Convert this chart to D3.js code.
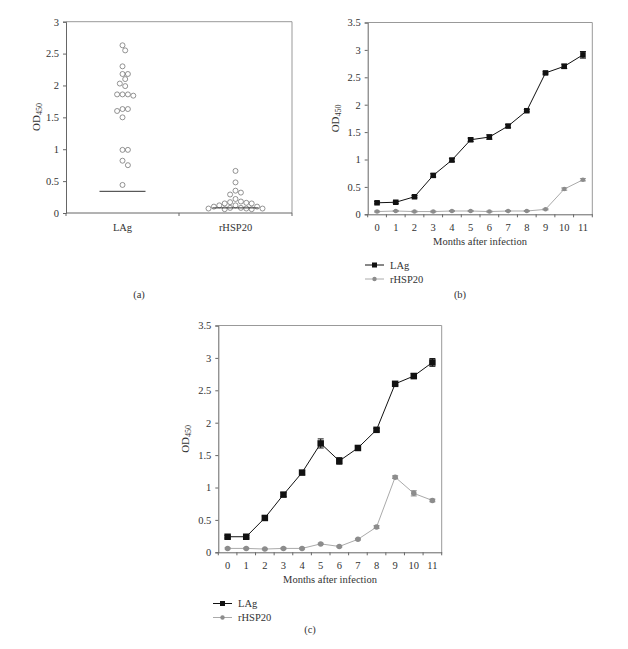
<!DOCTYPE html>
<html>
<head>
<meta charset="utf-8">
<script src="https://cdn.jsdelivr.net/npm/d3@7"></script>
<style>
  body { margin: 0; background: #fff; }
  svg { display: block; }
  text { font-family: "Liberation Serif", "DejaVu Serif", serif; fill: #333; }
</style>
</head>
<body>
<svg id="chart" width="628" height="649"></svg>
<script>
// ---- data ----
var groups = ["LAg", "rHSP20"];
var lagDots = [2.63, 2.55, 2.30, 2.18, 2.18, 2.10, 2.03, 1.99, 1.86, 1.86, 1.86, 1.84,
               1.63, 1.63, 1.60, 1.50, 0.99, 0.99, 0.82, 0.75, 0.44];
var hspDots = [0.66, 0.48, 0.35, 0.32, 0.29, 0.22, 0.18, 0.17, 0.16, 0.15, 0.15, 0.12,
               0.12, 0.10, 0.10, 0.08, 0.08, 0.07, 0.07, 0.07, 0.06, 0.06];
var medians = [0.34, 0.08];

var months = [0, 1, 2, 3, 4, 5, 6, 7, 8, 9, 10, 11];

var bLag    = [0.21, 0.22, 0.32, 0.71, 0.99, 1.36, 1.41, 1.61, 1.89, 2.58, 2.70, 2.91];
var bLagErr = [0.02, 0.02, 0.02, 0.03, 0.03, 0.03, 0.04, 0.03, 0.02, 0.02, 0.04, 0.06];
var bHsp    = [0.05, 0.06, 0.05, 0.05, 0.06, 0.06, 0.05, 0.06, 0.06, 0.09, 0.46, 0.63];
var bHspErr = [0.01, 0.01, 0.01, 0.01, 0.01, 0.01, 0.01, 0.01, 0.01, 0.01, 0.02, 0.02];

var cLag    = [0.24, 0.24, 0.53, 0.89, 1.23, 1.68, 1.41, 1.61, 1.89, 2.60, 2.72, 2.93];
var cLagErr = [0.02, 0.02, 0.03, 0.03, 0.03, 0.07, 0.05, 0.03, 0.02, 0.02, 0.04, 0.06];
var cHsp    = [0.06, 0.06, 0.05, 0.06, 0.06, 0.13, 0.09, 0.20, 0.39, 1.16, 0.91, 0.80];
var cHspErr = [0.01, 0.01, 0.01, 0.01, 0.01, 0.01, 0.01, 0.01, 0.02, 0.02, 0.04, 0.02];

var axisColor = "#666", frameColor = "#999";
var lagColor = "#111", hspColor = "#8c8c8c", hspLine = "#aaa";

var svg = d3.select("#chart");

// rotated OD450 label with subscript
function odLabel(g, x, y) {
  var t = g.append("text")
    .attr("transform", "translate(" + x + "," + y + ") rotate(-90)")
    .attr("text-anchor", "middle")
    .attr("font-size", "11px");
  t.append("tspan").text("OD");
  t.append("tspan").text("450").attr("font-size", "8px").attr("dy", "2");
}

function frame(g, x0, x1, y0, y1) {
  g.append("line").attr("x1", x0).attr("x2", x1).attr("y1", y0).attr("y2", y0)
    .attr("stroke", frameColor);
  g.append("line").attr("x1", x1).attr("x2", x1).attr("y1", y0).attr("y2", y1)
    .attr("stroke", frameColor);
}

function styleAxis(a) {
  a.selectAll("path, line").attr("stroke", axisColor);
  a.selectAll("text").attr("font-size", "10.5px").attr("fill", "#333")
    .attr("font-family", "Liberation Serif, serif");
}

// ---- panel (a): dot plot ----
(function () {
  var g = svg.append("g");
  var x = d3.scaleBand().domain(groups).range([66, 292]);
  var y = d3.scaleLinear().domain([0, 3]).range([213, 21.7]);
  var r = 2.5;

  frame(g, 66, 292, 21.7, 213);

  var ya = g.append("g").attr("transform", "translate(66,0)")
    .call(d3.axisLeft(y).tickValues(d3.range(0, 3.01, 0.5)).tickSize(3).tickPadding(4)
      .tickFormat(function (d) { return String(+d.toFixed(1)); }));
  styleAxis(ya);

  var xa = g.append("g").attr("transform", "translate(0,213)")
    .call(d3.axisBottom(x).tickSize(0).tickPadding(11));
  styleAxis(xa);
  xa.select(".domain").remove();
  g.append("line").attr("x1", 66).attr("x2", 292).attr("y1", 213).attr("y2", 213)
    .attr("stroke", axisColor);
  [66, x("rHSP20"), 292].forEach(function (px) {
    g.append("line").attr("x1", px).attr("x2", px).attr("y1", 213).attr("y2", 216)
      .attr("stroke", axisColor);
  });

  // simple dodge so overlapping circles are spread sideways
  function dodge(vals) {
    var placed = [];
    vals.slice().sort(function (a, b) { return b - a; }).forEach(function (v) {
      var py = y(v);
      for (var k = 0; k < 40; k++) {
        var off = (k % 2 ? 1 : -1) * Math.ceil(k / 2) * 2.7;
        var ok = placed.every(function (p) {
          return Math.hypot(p.dx - off, p.py - py) >= 2 * r + 0.3;
        });
        if (ok) { placed.push({ dx: off, py: py }); break; }
      }
    });
    return placed;
  }

  [lagDots, hspDots].forEach(function (vals, i) {
    var cx = x(groups[i]) + x.bandwidth() / 2;
    g.selectAll(null).data(dodge(vals)).enter().append("circle")
      .attr("cx", function (d) { return cx + d.dx; })
      .attr("cy", function (d) { return d.py; })
      .attr("r", r)
      .attr("fill", "none")
      .attr("stroke", "#777")
      .attr("stroke-width", 0.8);
    g.append("line")
      .attr("x1", cx - 23).attr("x2", cx + 23)
      .attr("y1", y(medians[i])).attr("y2", y(medians[i]))
      .attr("stroke", "#333").attr("stroke-width", 1);
  });

  odLabel(g, 40, 117);
  g.append("text").attr("x", 139).attr("y", 298).attr("text-anchor", "middle")
    .attr("font-size", "10.5px").text("(a)");
})();

// ---- panels (b) and (c): time courses ----
function timePanel(o) {
  var g = svg.append("g");
  var x = d3.scaleBand().domain(months).range([o.x0, o.x1]);
  var y = d3.scaleLinear().domain([0, 3.5]).range([o.y1, o.y0]);
  var bw = x.bandwidth();
  var cx = function (i) { return x(months[i]) + bw / 2; };

  frame(g, o.x0, o.x1, o.y0, o.y1);

  var ya = g.append("g").attr("transform", "translate(" + o.x0 + ",0)")
    .call(d3.axisLeft(y).tickValues(d3.range(0, 3.51, 0.5)).tickSize(3).tickPadding(4)
      .tickFormat(function (d) { return String(+d.toFixed(1)); }));
  styleAxis(ya);

  var xa = g.append("g").attr("transform", "translate(0," + o.y1 + ")")
    .call(d3.axisBottom(x).tickSize(0).tickPadding(9));
  styleAxis(xa);
  months.concat([months.length]).forEach(function (m, i) {
    var px = i < months.length ? x(m) : o.x1;
    g.append("line").attr("x1", px).attr("x2", px).attr("y1", o.y1).attr("y2", o.y1 + 3)
      .attr("stroke", axisColor);
  });

  var line = d3.line().x(function (d, i) { return cx(i); }).y(function (d) { return y(d); });

  function series(vals, errs, color, lineColor, square, sz) {
    g.append("path").attr("d", line(vals)).attr("fill", "none")
      .attr("stroke", lineColor).attr("stroke-width", 1);
    vals.forEach(function (v, i) {
      var px = cx(i);
      g.append("line").attr("x1", px).attr("x2", px)
        .attr("y1", y(v - errs[i])).attr("y2", y(v + errs[i])).attr("stroke", color);
      [v - errs[i], v + errs[i]].forEach(function (e) {
        g.append("line").attr("x1", px - 3).attr("x2", px + 3)
          .attr("y1", y(e)).attr("y2", y(e)).attr("stroke", color);
      });
    });
    var m = g.selectAll(null).data(vals).enter();
    if (square) {
      m.append("rect")
        .attr("x", function (d, i) { return cx(i) - sz / 2; })
        .attr("y", function (d) { return y(d) - sz / 2; })
        .attr("width", sz).attr("height", sz).attr("fill", color);
    } else {
      m.append("circle")
        .attr("cx", function (d, i) { return cx(i); })
        .attr("cy", function (d) { return y(d); })
        .attr("r", sz / 2).attr("fill", color);
    }
  }

  series(o.hsp, o.hspErr, hspColor, hspLine, false, o.sz - 1);
  series(o.lag, o.lagErr, lagColor, lagColor, true, o.sz);

  odLabel(g, o.x0 - 29, (o.y0 + o.y1) / 2);
  g.append("text").attr("x", (o.x0 + o.x1) / 2).attr("y", o.y1 + 31)
    .attr("text-anchor", "middle").attr("font-size", "10.5px").text("Months after infection");

  // legend
  [["LAg", lagColor, lagColor, true], ["rHSP20", hspColor, hspLine, false]].forEach(function (d, i) {
    var ly = o.ly + i * 14;
    g.append("line").attr("x1", o.lx).attr("x2", o.lx + 19).attr("y1", ly).attr("y2", ly)
      .attr("stroke", d[2]);
    if (d[3]) {
      g.append("rect").attr("x", o.lx + 7).attr("y", ly - 2.5).attr("width", 5).attr("height", 5)
        .attr("fill", d[1]);
    } else {
      g.append("circle").attr("cx", o.lx + 9.5).attr("cy", ly).attr("r", 2.2).attr("fill", d[1]);
    }
    g.append("text").attr("x", o.lx + 25).attr("y", ly + 3.5).attr("font-size", "10.5px").text(d[0]);
  });

  g.append("text").attr("x", o.px).attr("y", o.py).attr("text-anchor", "middle")
    .attr("font-size", "10.5px").text(o.tag);
}

timePanel({ x0: 367.7, x1: 592.3, y0: 22.5, y1: 214.3, sz: 5.5,
  lag: bLag, lagErr: bLagErr, hsp: bHsp, hspErr: bHspErr,
  lx: 365, ly: 265, px: 460, py: 298, tag: "(b)" });

timePanel({ x0: 218.3, x1: 441.7, y0: 325.5, y1: 552.3, sz: 6.5,
  lag: cLag, lagErr: cLagErr, hsp: cHsp, hspErr: cHspErr,
  lx: 213, ly: 603.5, px: 310, py: 633, tag: "(c)" });
</script>
</body>
</html>
